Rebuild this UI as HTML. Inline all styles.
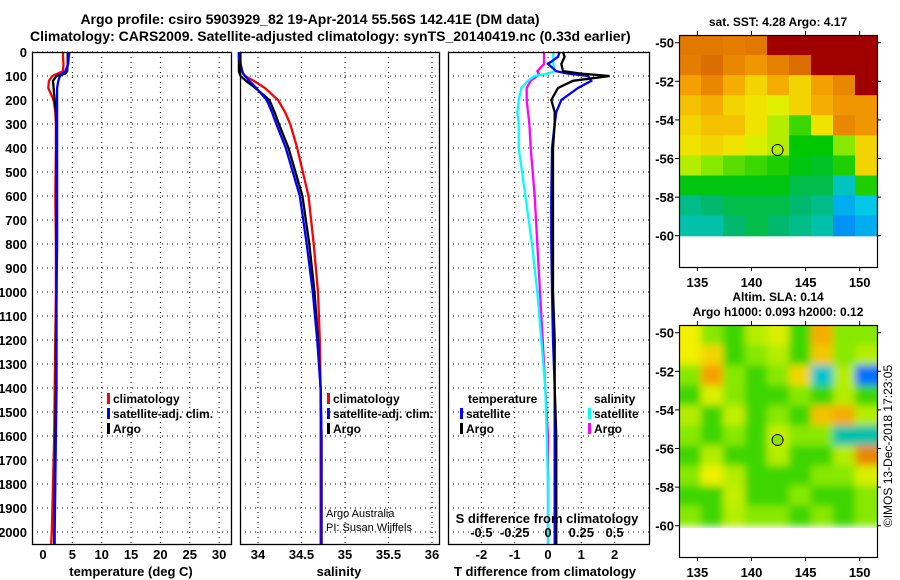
<!DOCTYPE html>
<html><head><meta charset="utf-8">
<style>
html,body{margin:0;padding:0;background:#fff;}
svg{display:block;font-family:"Liberation Sans",Arial,sans-serif;}
.t{font-weight:bold;fill:#000;}
</style></head>
<body>
<svg id="c" width="900" height="580" viewBox="0 0 900 580">
<defs>
<filter id="blur" x="-5%" y="-5%" width="110%" height="110%"><feGaussianBlur stdDeviation="4"/></filter>
<clipPath id="slaclip"><rect x="679" y="325" width="198" height="203"/></clipPath>
</defs>
</svg>
<script>
// ---------- data ----------
const depths = [0,20,50,80,90,100,120,150,200,250,300,400,600,800,1000,1200,1400,1600,1800,2000,2050];
const tempClim = [3.4,3.4,3.5,3.4,2.5,1.6,1.0,0.9,1.8,2.1,2.2,2.2,2.1,2.2,2.2,2.1,2.0,1.9,1.7,1.5,1.4];
const tempSat  = [4.5,4.4,4.3,3.8,3.3,2.9,2.6,2.4,2.4,2.4,2.4,2.4,2.4,2.4,2.3,2.3,2.3,2.2,2.1,2.0,2.0];
const tempArgo = [4.2,4.2,4.2,4.1,3.8,2.3,1.7,1.8,2.0,2.2,2.3,2.3,2.3,2.3,2.3,2.2,2.2,2.1,2.0,1.9,1.9];

const salClim = [33.80,33.80,33.80,33.81,33.83,33.85,33.95,34.08,34.23,34.31,34.37,34.45,34.58,34.64,34.69,34.71,34.72,34.72,34.72,34.72,34.72];
const salSat  = [33.78,33.78,33.80,33.82,33.83,33.85,33.90,33.98,34.10,34.16,34.21,34.32,34.48,34.56,34.63,34.68,34.72,34.73,34.73,34.73,34.73];
const salArgo = [33.78,33.78,33.78,33.78,33.79,33.80,33.86,33.97,34.13,34.19,34.24,34.35,34.51,34.59,34.65,34.69,34.72,34.73,34.73,34.73,34.73];

const tDiffSat  = [0.35,0.3,0.0,0.25,0.6,1.2,1.3,0.9,0.4,0.25,0.2,0.12,0.1,0.1,0.12,0.15,0.2,0.2,0.2,0.2,0.2];
const tDiffArgo = [0.45,0.5,0.4,0.45,1.0,1.85,0.75,0.3,0.1,0.2,0.2,0.15,0.15,0.15,0.15,0.2,0.2,0.25,0.25,0.25,0.25];
const sDiffSat  = [0.04,0.04,0.04,0.05,0.0,-0.1,-0.15,-0.2,-0.22,-0.23,-0.22,-0.22,-0.17,-0.12,-0.08,-0.05,-0.02,-0.01,0,0,0];
const sDiffArgo = [-0.03,-0.03,-0.03,-0.08,-0.07,-0.08,-0.13,-0.16,-0.16,-0.15,-0.14,-0.13,-0.1,-0.08,-0.06,-0.04,-0.02,0,0,0,0];

const depthTicks = [0,100,200,300,400,500,600,700,800,900,1000,1100,1200,1300,1400,1500,1600,1700,1800,1900,2000];
const tempTicks = [0,5,10,15,20,25,30];
const salTicks = [34,34.5,35,35.5,36];
const salTickLabels = ["34","34.5","35","35.5","36"];
const tdTicks = [-2,-1,0,1,2];
const sdTicks = [-0.5,-0.25,0,0.25,0.5];
const sdTickLabels = ["-0.5","-0.25","0","0.25","0.5"];

const mapLonTicks = [135,140,145,150];
const mapLatTicks = [-50,-52,-54,-56,-58,-60];
const sstGrid = [
 [0.88,0.88,0.87,0.88,1,1,1,1,1],
 [0.87,0.9,0.85,0.82,0.86,0.9,1,1,1],
 [0.8,0.85,0.78,0.72,0.78,0.72,0.8,0.85,1],
 [0.75,0.78,0.72,0.7,0.66,0.72,0.78,0.82,0.82],
 [0.72,0.75,0.75,0.7,0.6,0.5,0.7,0.85,0.82],
 [0.7,0.72,0.7,0.65,0.6,0.46,0.46,0.55,0.72],
 [0.6,0.55,0.52,0.5,0.48,0.45,0.44,0.48,0.72],
 [0.45,0.45,0.45,0.45,0.45,0.42,0.42,0.33,0.48],
 [0.38,0.4,0.42,0.42,0.42,0.4,0.38,0.27,0.3],
 [0.35,0.35,0.4,0.42,0.4,0.38,0.35,0.24,0.27]];
const slaGrid = [
 [0.68,0.55,0.5,0.6,0.65,0.5,0.78,0.55,0.55],
 [0.68,0.72,0.5,0.55,0.6,0.5,0.74,0.55,0.6],
 [0.55,0.8,0.55,0.5,0.55,0.72,0.32,0.6,0.2],
 [0.5,0.65,0.55,0.5,0.5,0.55,0.5,0.6,0.5],
 [0.6,0.5,0.62,0.5,0.55,0.5,0.75,0.78,0.6],
 [0.55,0.5,0.55,0.5,0.62,0.55,0.55,0.35,0.35],
 [0.5,0.6,0.5,0.5,0.6,0.5,0.5,0.6,0.85],
 [0.55,0.68,0.6,0.5,0.5,0.5,0.55,0.55,0.65],
 [0.5,0.5,0.62,0.5,0.5,0.55,0.5,0.5,0.55],
 [0.55,0.5,0.6,0.55,0.55,0.5,0.55,0.5,0.55]];
const argoLon = 142.41, argoLat = -55.56;

// ---------- helpers ----------
const NS="http://www.w3.org/2000/svg";
const svg=document.getElementById('c');
function mk(tag,attrs,parent){const e=document.createElementNS(NS,tag);for(const k in attrs)e.setAttribute(k,attrs[k]);(parent||svg).appendChild(e);return e;}
function txt(x,y,s,size,anchor,parent,extra){const e=mk('text',Object.assign({x:x,y:y,'font-size':size,'text-anchor':anchor||'start',class:'t'},extra||{}),parent);e.textContent=s;return e;}

const Y0=52, PXD=0.24, YB=544;
const yD=d=>Y0+d*PXD;

function panel(name){
  const g=mk('g',{});
  
  
  return g;
}
function gridV(g,xs){xs.forEach(x=>{const l=mk('line',{x1:x,x2:x,y1:Y0,y2:YB,stroke:'#000','stroke-width':1,'stroke-dasharray':'1,4'},g);
  
  });}
function gridH(g,x0,x1){depthTicks.forEach(d=>{const l=mk('line',{x1:x0,x2:x1,y1:yD(d),y2:yD(d),stroke:'#000','stroke-width':1,'stroke-dasharray':'1,4'},g);
  
  });}
function frame(g,x0,x1){const r=mk('rect',{x:x0+0.5,y:Y0+0.5,width:x1-x0,height:YB-Y0,fill:'none',stroke:'#000','stroke-width':1.3},g);
  
  }
function line(g,xs,color,name,sx){const pts=depths.map((d,i)=>sx(xs[i]).toFixed(1)+','+yD(d).toFixed(1)).join(' ');
  const p=mk('polyline',{points:pts,fill:'none',stroke:color,'stroke-width':2.3,'stroke-linejoin':'miter'},g);
  
  }
function legend(g,x,y,color,label){const b=mk('rect',{x:x,y:y-10,width:3,height:11,fill:color},g);
  
  
  const t=txt(x+6,y,label,12,'start',g);
  
  }

// ---------- titles ----------
const t1=txt(310,24,'Argo profile: csiro 5903929_82 19-Apr-2014 55.56S 142.41E (DM data)',14,'middle');


const t2=txt(30,41,'Climatology: CARS2009. Satellite-adjusted climatology: synTS_20140419.nc (0.33d earlier)',14,'start');



// ---------- panel 1: temperature ----------
const xT=v=>43+v*5.87;
const p1=panel('temperature-panel');
gridV(p1,tempTicks.slice(1).map(xT)); gridH(p1,32,231);
line(p1,tempClim,'#f00','temp-climatology-line',xT);
line(p1,tempArgo,'#000','temp-argo-line',xT);
line(p1,tempSat,'#00f','temp-satellite-line',xT);
frame(p1,32,231);
depthTicks.forEach(d=>{const t=txt(27,yD(d)+5,String(d),13,'end',p1);
  
  });
tempTicks.forEach(v=>{const t=txt(xT(v),559,String(v),13,'middle',p1);
  
  });
const a1=txt(131,576,'temperature (deg C)',13,'middle',p1);


legend(p1,107,403,'#f00','climatology');
legend(p1,107,418,'#00f','satellite-adj. clim.');
legend(p1,107,433,'#000','Argo');

// ---------- panel 2: salinity ----------
const xS=v=>258+(v-34)*87;
const p2=panel('salinity-panel');
gridV(p2,salTicks.map(xS)); gridH(p2,240,439);
line(p2,salClim,'#f00','sal-climatology-line',xS);
line(p2,salArgo,'#000','sal-argo-line',xS);
line(p2,salSat,'#00f','sal-satellite-line',xS);
frame(p2,240,439);
salTicks.forEach((v,i)=>{const t=txt(xS(v),559,salTickLabels[i],13,'middle',p2);
  
  });
const a2=txt(339,576,'salinity',13,'middle',p2);


legend(p2,327,403,'#f00','climatology');
legend(p2,327,418,'#00f','satellite-adj. clim.');
legend(p2,327,433,'#000','Argo');
const c1=txt(326,517,'Argo Australia',11,'start',p2,{style:'font-weight:normal',fill:'#555'});


const c2=txt(326,531,'PI: Susan Wijffels',11,'start',p2,{style:'font-weight:normal',fill:'#555'});



// ---------- panel 3: differences ----------
const xD=v=>548+v*33.3;
const xSD=v=>548+v*133.2;
const p3=panel('difference-panel');
gridV(p3,tdTicks.map(xD)); gridH(p3,448,649);
line(p3,sDiffArgo,'#f0f','sdiff-argo-line',xSD);
line(p3,sDiffSat,'#0ff','sdiff-satellite-line',xSD);
line(p3,tDiffSat,'#00f','tdiff-satellite-line',xD);
line(p3,tDiffArgo,'#000','tdiff-argo-line',xD);
frame(p3,448,649);
tdTicks.forEach(v=>{const t=txt(xD(v),559,String(v),13,'middle',p3);
  
  });
sdTicks.forEach((v,i)=>{const t=txt(xSD(v),537,sdTickLabels[i],13,'middle',p3);
  
  });
const a3=txt(545,576,'T difference from climatology',13,'middle',p3);


const a4=txt(547,523,'S difference from climatology',13,'middle',p3);


const lt=txt(468,403,'temperature',12,'start',p3);


legend(p3,460,418,'#00f','satellite');
legend(p3,460,433,'#000','Argo');
const ls=txt(594,403,'salinity',12,'start',p3);


legend(p3,588,418,'#0ff','satellite');
legend(p3,588,433,'#f0f','Argo');

// ---------- maps ----------
const cstops=[[0.2,[0,110,255]],[0.3,[0,200,230]],[0.4,[0,185,110]],[0.46,[0,200,0]],[0.56,[150,235,0]],[0.68,[240,240,0]],[0.8,[245,160,0]],[0.9,[220,110,0]],[1.0,[160,0,0]]];
function cmap(v){if(v<=cstops[0][0])return 'rgb('+cstops[0][1]+')';
  for(let i=1;i<cstops.length;i++){if(v<=cstops[i][0]){const [a,ca]=cstops[i-1],[b,cb]=cstops[i];const f=(v-a)/(b-a);
    return 'rgb('+ca.map((c,k)=>Math.round(c+(cb[k]-c)*f)).join(',')+')';}}
  return 'rgb('+cstops[cstops.length-1][1]+')';}
function drawMap(name,grid,top,title1,title2,fillCircle,smooth){
  const g=mk('g',{});
  
  
  const L=679,R=877,lonMin=133.3,lonMax=151.6;
  const xL=lon=>L+(lon-lonMin)*(R-L)/(lonMax-lonMin);
  const latTop=-49.6, pxLat=19.3;
  const yL=lat=>top+(latTop-lat)*pxLat;
  const rows=grid.length, cols=grid[0].length;
  const cw=(R-L)/cols, rh=(yL(-60)-yL(latTop))/rows;
  const outer=mk('g',smooth?{'clip-path':'url(#slaclip)'}:{},g);
  const cells=mk('g',smooth?{filter:'url(#blur)'}:{},outer);
  grid.forEach((row,r)=>row.forEach((v,c)=>{
    const ex=smooth?8:0;
    const cell=mk('rect',{x:L+c*cw-(c===0?ex:0),y:top+r*rh-(r===0?ex:0),width:cw+0.6+(c===0||c===cols-1?ex:0),height:rh+0.6+(r===0?ex:0),fill:cmap(v)},cells);
    
    
  }));
  const bottom=top+232;
  const fr=mk('rect',{x:L+0.5,y:top+0.5,width:R-L,height:bottom-top,fill:'none',stroke:'#000','stroke-width':1.2},g);
  
  
  mapLonTicks.forEach(lon=>{const x=xL(lon);
    mk('line',{x1:x,x2:x,y1:top-4,y2:top,stroke:'#000'},g);
    mk('line',{x1:x,x2:x,y1:bottom,y2:bottom+4,stroke:'#000'},g);
    const t=txt(x,bottom+20,String(lon),13,'middle',g);
    
    });
  mapLatTicks.forEach(lat=>{const y=yL(lat);
    mk('line',{x1:L-4,x2:L,y1:y,y2:y,stroke:'#000'},g);
    mk('line',{x1:R,x2:R+4,y1:y,y2:y,stroke:'#000'},g);
    const t=txt(L-5,y+5,String(lat),13,'end',g);
    
    });
  const ci=mk('circle',{cx:xL(argoLon),cy:yL(argoLat),r:5.5,fill:fillCircle,stroke:'#000','stroke-width':1},g);
  
  
  if(title2){const a=txt(778,top-24,title1,12,'middle',g);
    
    
    const b=txt(778,top-9,title2,12,'middle',g);
    
    }
  else{const a=txt(778,top-9,title1,12,'middle',g);
    
    }
}
drawMap('sst-map',sstGrid,35,'sat. SST: 4.28 Argo: 4.17',null,'none',false);
drawMap('sla-map',slaGrid,325,'Altim. SLA: 0.14','Argo h1000: 0.093 h2000: 0.12','#90e000',true);

const cr=txt(0,0,'©IMOS 13-Dec-2018 17:23:05',12,'middle',null,{transform:'translate(892,446) rotate(-90)',style:'font-weight:normal'});


</script>
</body></html>
